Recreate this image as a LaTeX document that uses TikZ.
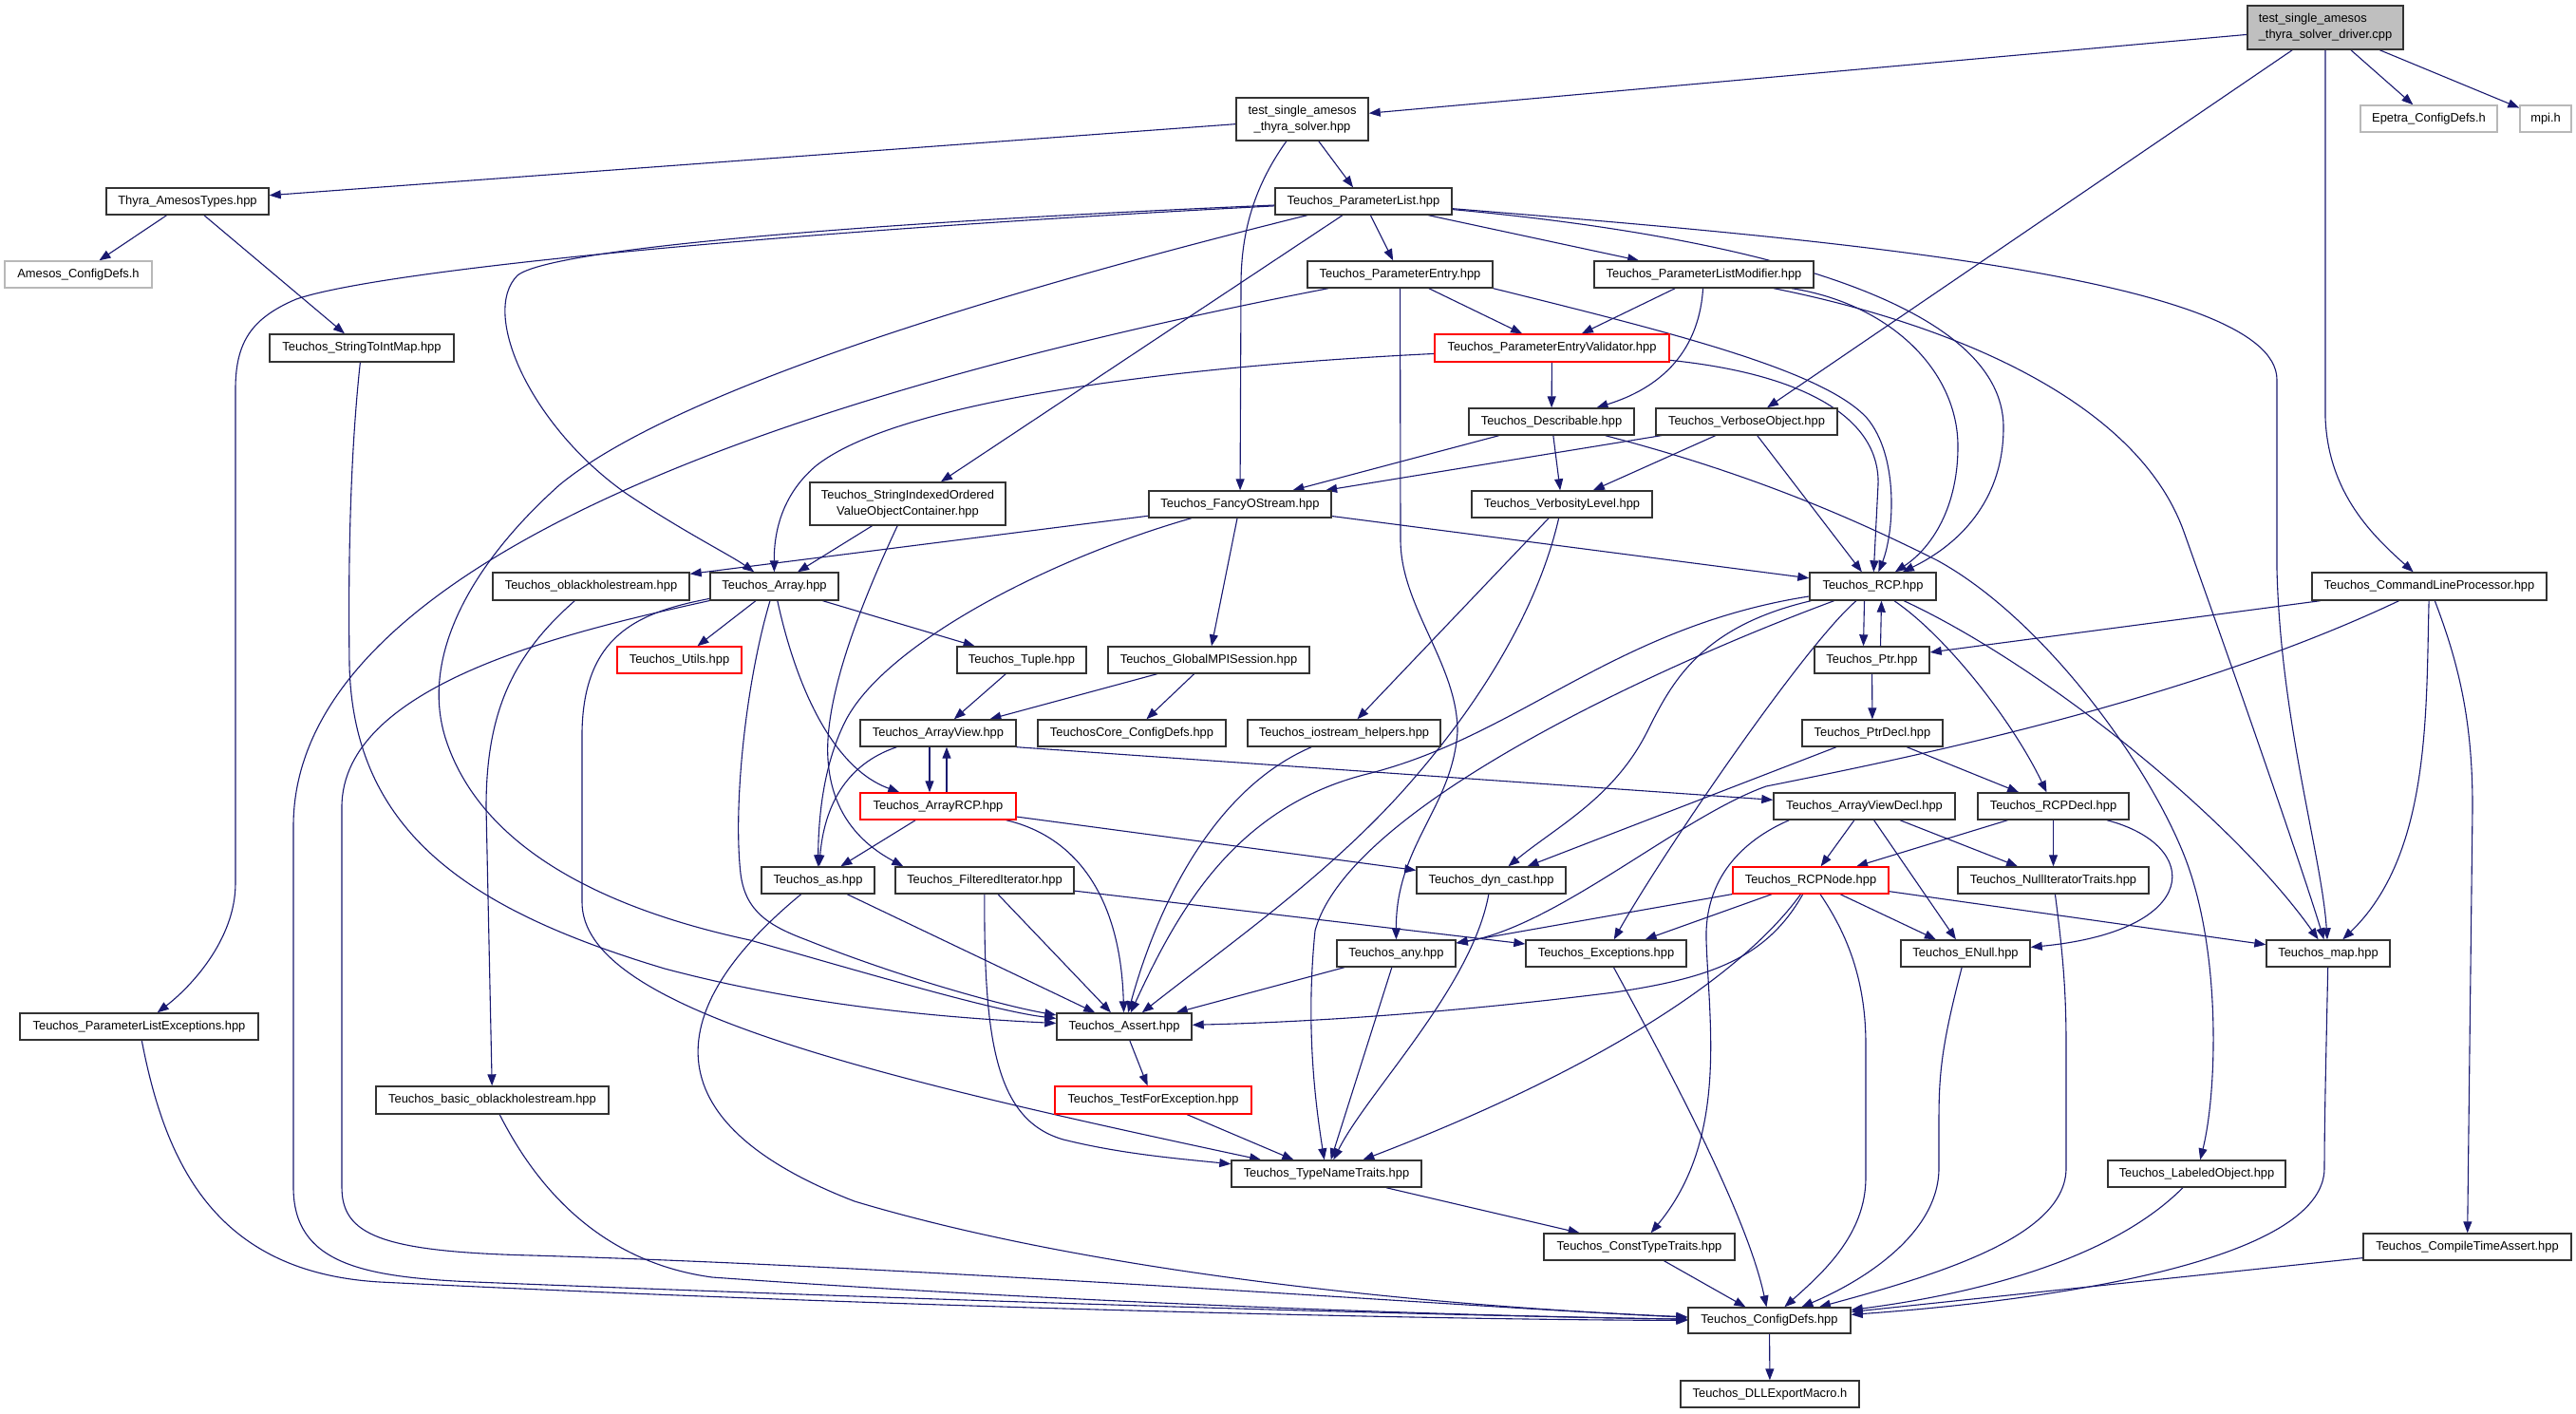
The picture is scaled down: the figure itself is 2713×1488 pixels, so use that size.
\documentclass[tikz,border=0pt]{standalone}
\usepackage{fontspec}
\setmainfont{Liberation Sans}
\usetikzlibrary{arrows.meta}
\definecolor{edgecol}{RGB}{25,25,112}
\pgfdeclarelayer{bg}
\pgfsetlayers{bg,main}
\newcommand\nfont{\fontsize{6.45}{8.5}\selectfont}
\newcommand\bx[7]{\node[#6, minimum width={(#3-#2)*0.5pt}, minimum height={(#5-#4)*0.5pt}] (#1) at ({(#2+#3)/2},{(#4+#5)/2}) {#7};}
\begin{document}
\begin{tikzpicture}[x=0.5pt,y=-0.5pt,
  nodebox/.style={draw=black!80, line width=0.7pt, fill=white, inner sep=0pt, font=\nfont, text=black},
  redbox/.style={nodebox, draw=red},
  graybox/.style={nodebox, draw=black!28},
  mainbox/.style={nodebox, fill=black!25, align=left},
  dep/.style={draw=edgecol, line width=0.55pt, -{Triangle[length=6pt,width=4.5pt]}}]
\useasboundingbox (0,0) rectangle (2713,1488);
% ---------------- nodes ----------------
\bx{drv}{2367}{2531}{6}{52}{mainbox}{test\_single\_amesos\\\_thyra\_solver\_driver.cpp}
\bx{tsats}{1302}{1441}{103}{148}{nodebox,align=center}{test\_single\_amesos\\\_thyra\_solver.hpp}
\bx{epetra}{2486}{2630}{111}{139}{graybox}{Epetra\_ConfigDefs.h}
\bx{mpi}{2654}{2708}{111}{139}{graybox}{mpi.h}
\bx{thyra}{112}{283}{198}{226}{nodebox}{Thyra\_AmesosTypes.hpp}
\bx{pl}{1343}{1529}{198}{226}{nodebox}{Teuchos\_ParameterList.hpp}
\bx{amesos}{5}{160}{275}{303}{graybox}{Amesos\_ConfigDefs.h}
\bx{pe}{1377}{1572}{275}{303}{nodebox}{Teuchos\_ParameterEntry.hpp}
\bx{plm}{1679}{1910}{275}{303}{nodebox}{Teuchos\_ParameterListModifier.hpp}
\bx{s2i}{284}{478}{352}{381}{nodebox}{Teuchos\_StringToIntMap.hpp}
\bx{pev}{1511}{1758}{352}{381}{redbox}{Teuchos\_ParameterEntryValidator.hpp}
\bx{desc}{1547}{1721}{430}{458}{nodebox}{Teuchos\_Describable.hpp}
\bx{vo}{1744}{1935}{430}{458}{nodebox}{Teuchos\_VerboseObject.hpp}
\bx{siovoc}{853}{1059}{508}{553}{nodebox,align=center}{Teuchos\_StringIndexedOrdered\\ValueObjectContainer.hpp}
\bx{fos}{1210}{1402}{517}{545}{nodebox}{Teuchos\_FancyOStream.hpp}
\bx{vl}{1550}{1740}{517}{545}{nodebox}{Teuchos\_VerbosityLevel.hpp}
\bx{obh}{519}{726}{603}{632}{nodebox}{Teuchos\_oblackholestream.hpp}
\bx{arr}{748}{883}{603}{632}{nodebox}{Teuchos\_Array.hpp}
\bx{rcp}{1906}{2039}{603}{632}{nodebox}{Teuchos\_RCP.hpp}
\bx{clp}{2435}{2682}{603}{632}{nodebox}{Teuchos\_CommandLineProcessor.hpp}
\bx{utils}{650}{781}{681}{709}{redbox}{Teuchos\_Utils.hpp}
\bx{tuple}{1008}{1144}{681}{709}{nodebox}{Teuchos\_Tuple.hpp}
\bx{gmpi}{1167}{1379}{681}{709}{nodebox}{Teuchos\_GlobalMPISession.hpp}
\bx{ptr}{1911}{2032}{681}{709}{nodebox}{Teuchos\_Ptr.hpp}
\bx{av}{906}{1070}{758}{786}{nodebox}{Teuchos\_ArrayView.hpp}
\bx{tccd}{1093}{1291}{758}{786}{nodebox}{TeuchosCore\_ConfigDefs.hpp}
\bx{ioh}{1314}{1517}{758}{786}{nodebox}{Teuchos\_iostream\_helpers.hpp}
\bx{ptrd}{1898}{2046}{758}{786}{nodebox}{Teuchos\_PtrDecl.hpp}
\bx{arcp}{906}{1070}{835}{863}{redbox}{Teuchos\_ArrayRCP.hpp}
\bx{avd}{1868}{2059}{835}{863}{nodebox}{Teuchos\_ArrayViewDecl.hpp}
\bx{rcpd}{2083}{2242}{835}{863}{nodebox}{Teuchos\_RCPDecl.hpp}
\bx{as}{802}{921}{913}{941}{nodebox}{Teuchos\_as.hpp}
\bx{fi}{943}{1131}{913}{941}{nodebox}{Teuchos\_FilteredIterator.hpp}
\bx{dync}{1492}{1649}{913}{941}{nodebox}{Teuchos\_dyn\_cast.hpp}
\bx{rcpn}{1825}{1989}{913}{941}{redbox}{Teuchos\_RCPNode.hpp}
\bx{nit}{2062}{2263}{913}{941}{nodebox}{Teuchos\_NullIteratorTraits.hpp}
\bx{any}{1408}{1533}{990}{1018}{nodebox}{Teuchos\_any.hpp}
\bx{exc}{1607}{1776}{990}{1018}{nodebox}{Teuchos\_Exceptions.hpp}
\bx{enull}{2002}{2138}{990}{1018}{nodebox}{Teuchos\_ENull.hpp}
\bx{map}{2387}{2517}{990}{1018}{nodebox}{Teuchos\_map.hpp}
\bx{ple}{21}{272}{1067}{1095}{nodebox}{Teuchos\_ParameterListExceptions.hpp}
\bx{asrt}{1113}{1255}{1067}{1095}{nodebox}{Teuchos\_Assert.hpp}
\bx{bobh}{396}{641}{1144}{1173}{nodebox}{Teuchos\_basic\_oblackholestream.hpp}
\bx{tfe}{1111}{1318}{1144}{1173}{redbox}{Teuchos\_TestForException.hpp}
\bx{tnt}{1297}{1497}{1222}{1250}{nodebox}{Teuchos\_TypeNameTraits.hpp}
\bx{lo}{2220}{2407}{1222}{1250}{nodebox}{Teuchos\_LabeledObject.hpp}
\bx{ctt}{1626}{1827}{1299}{1327}{nodebox}{Teuchos\_ConstTypeTraits.hpp}
\bx{cta}{2489}{2708}{1299}{1327}{nodebox}{Teuchos\_CompileTimeAssert.hpp}
\bx{cd}{1778}{1949}{1377}{1404}{nodebox}{Teuchos\_ConfigDefs.hpp}
\bx{dll}{1770}{1958}{1454}{1482}{nodebox}{Teuchos\_DLLExportMacro.h}
% ---------------- edges ----------------
\begin{pgfonlayer}{bg}
\fill[white] (0,0) rectangle (2713,1488);
\draw[dep] (drv) -- (tsats);
\draw[dep] (drv) -- (vo);
\draw[dep] (drv) -- (2449,440) .. controls (2452,520) and (2500,565) .. (clp);
\draw[dep] (drv) -- (epetra);
\draw[dep] (drv) -- (mpi);
\draw[dep] (tsats) -- (thyra);
\draw[dep] (tsats) -- (pl);
\draw[dep] (tsats) .. controls (1318,200) and (1307,250) .. (1307,300) -- (fos);
\draw[dep] (thyra) -- (amesos);
\draw[dep] (thyra) -- (s2i);
\draw[dep] (s2i) .. controls (372,450) and (366,550) .. (368,700) .. controls (372,880) and (500,960) .. (700,1020) .. controls (850,1060) and (1000,1072) .. (asrt);
\draw[dep] (pl) -- (pe);
\draw[dep] (pl) -- (plm);
\draw[dep] (pl) .. controls (900,235) and (580,262) .. (545,290) .. controls (505,330) and (560,450) .. (660,520) .. controls (720,560) and (770,585) .. (arr);
\draw[dep] (pl) .. controls (1000,320) and (700,420) .. (590,510) .. controls (500,590) and (440,690) .. (470,780) .. controls (510,900) and (650,960) .. (790,990) .. controls (930,1030) and (1050,1065) .. (asrt);
\draw[dep] (pl) -- (siovoc);
\draw[dep] (pl) .. controls (800,245) and (400,285) .. (312,315) .. controls (265,335) and (248,360) .. (248,410) -- (248,930) .. controls (248,990) and (200,1040) .. (ple);
\draw[dep] (pl) .. controls (1850,250) and (2110,320) .. (2110,450) .. controls (2110,530) and (2060,575) .. (rcp);
\draw[dep] (pl) .. controls (1900,250) and (2398,290) .. (2398,400) -- (2398,600) .. controls (2402,760) and (2445,900) .. (map);
\draw[dep] (pe) -- (pev);
\draw[dep] (pe.south east) .. controls (1760,350) and (1920,390) .. (1966,440) .. controls (2000,480) and (1995,560) .. (rcp);
\draw[dep] (pe) -- (1475,570) .. controls (1476,640) and (1535,700) .. (1535,770) .. controls (1530,850) and (1470,890) .. (any);
\draw[dep] (pe) .. controls (800,420) and (309,600) .. (309,870) -- (309,1250) .. controls (309,1330) and (380,1345) .. (500,1350) .. controls (1000,1370) and (1500,1385) .. (cd);
\draw[dep] (plm) -- (pev);
\draw[dep] (plm) .. controls (1790,360) and (1760,405) .. (desc);
\draw[dep] (plm) .. controls (1990,320) and (2062,390) .. (2062,470) .. controls (2062,540) and (2030,580) .. (rcp);
\draw[dep] (plm) .. controls (2050,340) and (2250,420) .. (2300,560) .. controls (2350,700) and (2420,900) .. (map);
\draw[dep] (pev) -- (desc);
\draw[dep] (pev) .. controls (1910,395) and (1980,445) .. (1978,510) -- (rcp);
\draw[dep] (pev) .. controls (1250,385) and (950,420) .. (860,490) .. controls (830,515) and (815,550) .. (arr);
\draw[dep] (desc) -- (fos);
\draw[dep] (desc) -- (vl);
\draw[dep] (desc) .. controls (1850,500) and (1960,550) .. (2040,590) .. controls (2150,650) and (2260,800) .. (2300,900) .. controls (2340,1000) and (2335,1150) .. (lo);
\draw[dep] (vo) -- (fos);
\draw[dep] (vo) -- (vl);
\draw[dep] (vo) -- (rcp);
\draw[dep] (siovoc) -- (arr);
\draw[dep] (siovoc) .. controls (900,650) and (868,740) .. (872,800) .. controls (876,860) and (910,890) .. ([xshift=4.5pt]fi.north west);
\draw[dep] (fos) -- (obh);
\draw[dep] (fos) -- (rcp);
\draw[dep] (fos) -- (gmpi);
\draw[dep] (fos) .. controls (1100,590) and (930,680) .. (890,760) .. controls (870,800) and (862,850) .. (as);
\draw[dep] (vl) -- (ioh);
\draw[dep] (vl) .. controls (1620,640) and (1560,740) .. (1480,830) .. controls (1400,920) and (1300,990) .. (asrt);
\draw[dep] (obh) .. controls (540,690) and (512,750) .. (512,850) -- (bobh);
\draw[dep] (arr) -- (utils);
\draw[dep] (arr) -- (tuple);
\draw[dep] (arr) .. controls (840,730) and (880,810) .. (arcp);
\draw[dep] (arr) .. controls (785,720) and (772,850) .. (780,920) .. controls (785,960) and (810,975) .. (850,990) .. controls (950,1030) and (1060,1060) .. (asrt);
\draw[dep] (arr) .. controls (670,645) and (615,670) .. (613,770) -- (613,950) .. controls (613,1060) and (900,1130) .. (tnt);
\draw[dep] (arr) .. controls (600,665) and (360,720) .. (360,850) -- (360,1250) .. controls (360,1300) and (400,1318) .. (560,1322) .. controls (1000,1335) and (1600,1380) .. (cd);
\draw[dep] ([xshift=-4.5pt]rcp.south) -- ([xshift=-4.5pt]ptr.north);
\draw[dep] ([xshift=4.5pt]ptr.north) -- ([xshift=4.5pt]rcp.south);
\draw[dep] (ptr) -- (ptrd);
\draw[dep] (rcp) .. controls (2050,670) and (2120,760) .. (rcpd);
\draw[dep] (rcp) .. controls (2150,700) and (2350,860) .. (map);
\draw[dep] (rcp) .. controls (1900,680) and (1750,900) .. (exc);
\draw[dep] (rcp) .. controls (1790,660) and (1760,720) .. (1735,770) .. controls (1700,840) and (1640,870) .. (dync);
\draw[dep] (rcp) .. controls (1700,660) and (1600,775) .. (1440,815) .. controls (1300,850) and (1240,960) .. (asrt);
\draw[dep] (rcp) .. controls (1750,700) and (1420,850) .. (1385,980) .. controls (1375,1080) and (1385,1160) .. (tnt);
\draw[dep] (clp) -- (ptr);
\draw[dep] (clp) .. controls (2300,740) and (2000,800) .. (1860,828) .. controls (1770,860) and (1640,975) .. (any);
\draw[dep] (clp) .. controls (2555,750) and (2560,900) .. (map);
\draw[dep] (clp) .. controls (2590,700) and (2604,760) .. (2604,850) -- (cta);
\draw[dep] (gmpi) -- (av);
\draw[dep] (gmpi) -- (tccd);
\draw[dep] (tuple) -- (av);
\draw[dep] ([xshift=-4.5pt]av.south) -- ([xshift=-4.5pt]arcp.north);
\draw[dep] ([xshift=4.5pt]arcp.north) -- ([xshift=4.5pt]av.south);
\draw[dep] (av) .. controls (890,805) and (868,850) .. (as);
\draw[dep] (av.south east) -- (avd);
\draw[dep] (ioh) .. controls (1280,830) and (1220,950) .. (asrt);
\draw[dep] (ptrd) -- (dync);
\draw[dep] (ptrd) -- (rcpd);
\draw[dep] (arcp) -- (as);
\draw[dep] (arcp) -- (dync);
\draw[dep] ([xshift=-5.5pt]arcp.south east) .. controls (1130,880) and (1180,940) .. (asrt);
\draw[dep] (avd) -- (rcpn);
\draw[dep] (avd) -- (nit);
\draw[dep] (avd) -- (enull);
\draw[dep] ([xshift=8.5pt]avd.south west) .. controls (1835,885) and (1795,925) .. (1797,990) .. controls (1800,1080) and (1820,1200) .. (ctt);
\draw[dep] (rcpd) -- (rcpn);
\draw[dep] (rcpd) -- (nit);
\draw[dep] (rcpd) .. controls (2320,890) and (2320,980) .. (enull);
\draw[dep] (as) -- (asrt);
\draw[dep] (as) .. controls (700,1060) and (680,1180) .. (900,1265) .. controls (1150,1340) and (1500,1375) .. (cd);
\draw[dep] (fi) -- (asrt);
\draw[dep] (fi) -- (exc);
\draw[dep] (fi) .. controls (1036,1100) and (1050,1180) .. (1120,1200) .. controls (1180,1215) and (1240,1220) .. (tnt);
\draw[dep] (dync) .. controls (1550,1040) and (1440,1150) .. (tnt);
\draw[dep] (rcpn) -- (any);
\draw[dep] (rcpn) -- (exc);
\draw[dep] (rcpn) -- (enull);
\draw[dep] (rcpn) -- (map);
\draw[dep] (rcpn) .. controls (1860,1010) and (1800,1030) .. (1700,1045) .. controls (1500,1070) and (1350,1077) .. (asrt);
\draw[dep] (rcpn) .. controls (1840,1020) and (1700,1120) .. (tnt);
\draw[dep] (rcpn) .. controls (1950,990) and (1965,1040) .. (1965,1100) -- (1965,1240) .. controls (1965,1300) and (1920,1340) .. (cd);
\draw[dep] (nit) .. controls (2172,1000) and (2176,1040) .. (2176,1100) -- (2176,1230) .. controls (2176,1300) and (2050,1340) .. (cd);
\draw[dep] (any) -- (asrt);
\draw[dep] (any) -- (tnt);
\draw[dep] (exc) .. controls (1760,1130) and (1840,1280) .. (cd);
\draw[dep] (enull) .. controls (2045,1100) and (2042,1130) .. (2042,1180) -- (2042,1230) .. controls (2042,1300) and (1960,1350) .. (cd);
\draw[dep] (map) .. controls (2450,1100) and (2448,1180) .. (2448,1230) .. controls (2448,1330) and (2150,1370) .. (cd);
\draw[dep] (ple) .. controls (175,1230) and (230,1340) .. (400,1350) .. controls (900,1375) and (1500,1390) .. (cd);
\draw[dep] (bobh) .. controls (570,1260) and (640,1330) .. (750,1345) .. controls (1100,1370) and (1500,1385) .. (cd);
\draw[dep] (asrt) -- (tfe);
\draw[dep] (tfe) -- (tnt);
\draw[dep] (tnt) -- (ctt);
\draw[dep] (ctt) -- (cd);
\draw[dep] (lo) .. controls (2230,1320) and (2100,1360) .. (cd);
\draw[dep] (cta) -- (cd);
\draw[dep] (cd) -- (dll);
\end{pgfonlayer}
\end{tikzpicture}
\end{document}
